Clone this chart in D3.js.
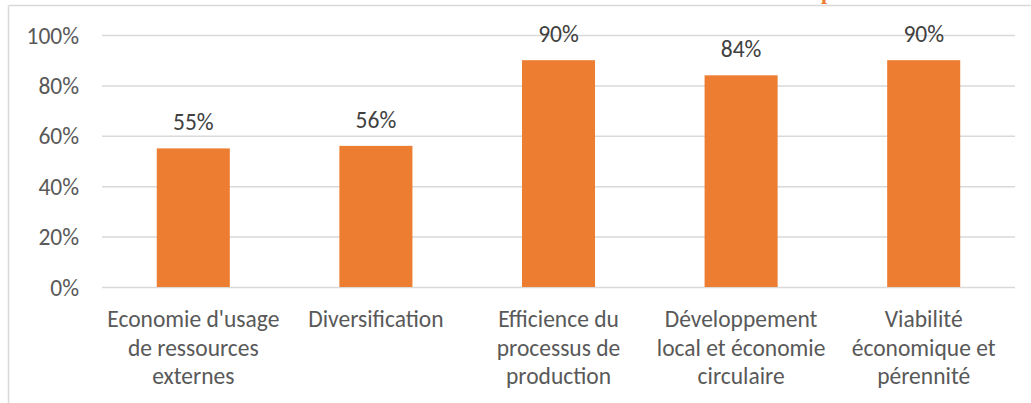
<!DOCTYPE html>
<html>
<head>
<meta charset="utf-8">
<script src="https://cdn.jsdelivr.net/npm/d3@7"></script>
<style>
  html, body { margin: 0; padding: 0; background: #fff; }
  svg { display: block; }
</style>
</head>
<body>
<svg id="chart" width="1031" height="403"></svg>
<script>
// Category labels, one array entry per wrapped line
const categories = [
  ["Economie d'usage", "de ressources", "externes"],
  ["Diversification"],
  ["Efficience du", "processus de", "production"],
  ["Développement", "local et économie", "circulaire"],
  ["Viabilité", "économique et", "pérennité"]
];
const values = [0.55, 0.56, 0.90, 0.84, 0.90];
const yTicks = [0, 0.2, 0.4, 0.6, 0.8, 1.0];

const W = 1031, H = 403;
const plot = { left: 102, right: 1015, top: 35, bottom: 287 };
const FONT = "Carlito, Calibri, Lato, sans-serif";
const FS = 23.5;
const TEXT = "#595959";
const GRID = "#d9d9d9";
const BAR = "#ED7D31";

const svg = d3.select("#chart");

// Frame around the chart area (left and top edges visible)
svg.append("line").attr("x1", 8.5).attr("x2", 8.5).attr("y1", 5.5).attr("y2", H)
  .attr("stroke", GRID).attr("stroke-width", 1.5);
svg.append("line").attr("x1", 8.5).attr("x2", W).attr("y1", 5.5).attr("y2", 5.5)
  .attr("stroke", GRID).attr("stroke-width", 1.5);

// Trailing descender of the title above the frame
svg.append("text").attr("x", 827).attr("y", -1)
  .attr("text-anchor", "middle")
  .attr("font-family", "'Liberation Serif', serif").attr("font-weight", "bold")
  .attr("font-size", 22).attr("fill", BAR).text("p");

const x = d3.scaleBand()
  .domain(d3.range(categories.length))
  .range([plot.left, plot.right])
  .paddingInner(0.6).paddingOuter(0.3);

const y = d3.scaleLinear().domain([0, 1]).range([plot.bottom, plot.top]);

// Gridlines and y-axis labels
const yAxis = d3.axisLeft(y).tickValues(yTicks)
  .tickSize(-(plot.right - plot.left)).tickPadding(23)
  .tickFormat(d3.format(".0%"));
const gy = svg.append("g").attr("transform", `translate(${plot.left},0)`).call(yAxis);
gy.select(".domain").remove();
gy.selectAll(".tick line").attr("stroke", GRID).attr("stroke-width", 1.5);
gy.selectAll(".tick text").attr("fill", TEXT).attr("font-family", FONT)
  .attr("font-size", FS).attr("dy", "0.34em");

// Bars
svg.append("g").selectAll("rect").data(values).join("rect")
  .attr("x", (d, i) => x(i))
  .attr("y", d => y(d))
  .attr("width", x.bandwidth())
  .attr("height", d => y(0) - y(d))
  .attr("fill", BAR);

// Value labels
svg.append("g").selectAll("text").data(values).join("text")
  .attr("x", (d, i) => x(i) + x.bandwidth() / 2)
  .attr("y", d => y(d) - 18)
  .attr("text-anchor", "middle")
  .attr("font-family", FONT).attr("font-size", FS).attr("fill", "#404040")
  .text(d => d3.format(".0%")(d));

// Category labels (wrapped)
const gx = svg.append("g");
categories.forEach((lines, i) => {
  const t = gx.append("text")
    .attr("x", x(i) + x.bandwidth() / 2)
    .attr("y", 327)
    .attr("text-anchor", "middle")
    .attr("font-family", FONT).attr("font-size", FS).attr("fill", TEXT);
  lines.forEach((ln, k) => {
    t.append("tspan").attr("x", x(i) + x.bandwidth() / 2)
      .attr("y", 327 + k * 28.7).text(ln);
  });
});
</script>
</body>
</html>
